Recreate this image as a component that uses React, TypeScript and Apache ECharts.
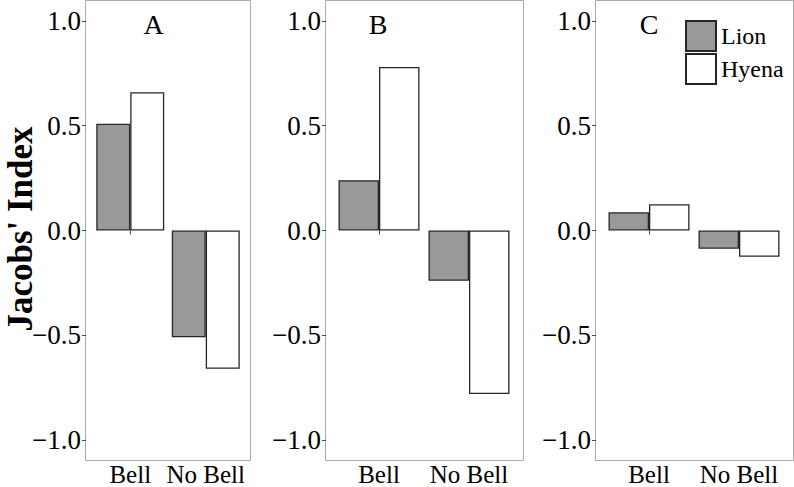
import React, { useEffect, useRef } from "react";
import * as echarts from "echarts";

const categories = ["Bell", "No Bell"];
const panelLabels = ["A", "B", "C"];
const seriesNames = ["Lion", "Hyena"];
const lionA = [0.51, -0.51];
const hyenaA = [0.66, -0.66];
const lionB = [0.24, -0.24];
const hyenaB = [0.78, -0.78];
const lionC = [0.087, -0.087];
const hyenaC = [0.125, -0.125];
const yTicks = [-1, -0.5, 0, 0.5, 1];

const lionData = [lionA, lionB, lionC];
const hyenaData = [hyenaA, hyenaB, hyenaC];

// layout (pixels)
const barGrids = [
  { left: 92.5, width: 151 },
  { left: 334, width: 180 },
  { left: 604, width: 180 },
];
const frames = [
  { x: 85.5, width: 165 },
  { x: 325.5, width: 198 },
  { x: 595.5, width: 198 },
];
const letterPos = [153.5, 378, 649];
const GRID_TOP = 0;
const GRID_H = 461;
const FONT = "'Liberation Serif', 'Times New Roman', serif";

const fmt = (v: number) => (v < 0 ? "\u2212" : "") + Math.abs(v).toFixed(1);

export default function App() {
  const ref = useRef<HTMLDivElement>(null);
  useEffect(() => {
    document.body.style.margin = "0";
    const chart = echarts.init(ref.current!, null, { renderer: "svg" });
    const grid: any[] = [];
    const xAxis: any[] = [];
    const yAxis: any[] = [];
    const series: any[] = [];
    const graphic: any[] = [];
    for (let i = 0; i < 3; i++) {
      grid.push({
        left: barGrids[i].left,
        width: barGrids[i].width,
        top: GRID_TOP,
        height: GRID_H,
        containLabel: false,
        outerBoundsMode: "none",
      });
      xAxis.push({
        type: "category",
        gridIndex: i,
        data: categories,
        axisLine: { show: false },
        axisTick: { show: true, alignWithLabel: true, interval: 0, length: 4, lineStyle: { color: "#444", width: 1 } },
        axisLabel: { color: "#000", fontSize: 25, fontFamily: FONT, margin: 1, interval: 0, hideOverlap: false },
        splitLine: { show: false },
      });
      yAxis.push({
        type: "value",
        gridIndex: i,
        min: -1.1,
        max: 1.1,
        offset: barGrids[i].left - frames[i].x - 0.5,
        axisLine: { show: false },
        axisTick: { show: true, length: 4, customValues: yTicks, lineStyle: { color: "#444", width: 1 } },
        axisLabel: { color: "#000", fontSize: 27, fontFamily: FONT, margin: 5, customValues: yTicks, formatter: fmt },
        splitLine: { show: false },
      });
      series.push({
        type: "bar",
        name: seriesNames[0],
        xAxisIndex: i,
        yAxisIndex: i,
        data: lionData[i],
        barGap: "0%",
        barCategoryGap: "10%",
        itemStyle: { color: "#999999", borderColor: "#262626", borderWidth: 1.3 },
      });
      series.push({
        type: "bar",
        name: seriesNames[1],
        xAxisIndex: i,
        yAxisIndex: i,
        data: hyenaData[i],
        barGap: "0%",
        barCategoryGap: "10%",
        itemStyle: { color: "#ffffff", borderColor: "#262626", borderWidth: 1.3 },
      });
      graphic.push({
        type: "rect",
        shape: { x: frames[i].x, y: 0.5, width: frames[i].width, height: 460 },
        style: { fill: "none", stroke: "#aaaaaa", lineWidth: 1 },
        z: 0,
        silent: true,
      });
      graphic.push({
        type: "text",
        x: letterPos[i],
        y: 24,
        style: { text: panelLabels[i], fontSize: 28, fontFamily: FONT, fill: "#000", align: "center", verticalAlign: "middle" },
      });
    }
    graphic.push({
      type: "text",
      x: 20,
      y: 229,
      rotation: Math.PI / 2,
      style: { text: "Jacobs' Index", fontSize: 35, fontWeight: "bold", fontFamily: FONT, fill: "#000", align: "center", verticalAlign: "middle" },
    });
    chart.setOption({
      animation: false,
      backgroundColor: "#ffffff",
      grid,
      xAxis,
      yAxis,
      series,
      graphic,
      legend: {
        data: seriesNames,
        orient: "vertical",
        left: 685,
        top: 20,
        itemWidth: 30,
        itemHeight: 30,
        itemGap: 1,
        icon: "rect",
        padding: 0,
        textStyle: { fontSize: 24, fontFamily: FONT, color: "#000" },
      },
    });
    return () => chart.dispose();
  }, []);
  return <div ref={ref} style={{ width: 794, height: 487 }} />;
}
